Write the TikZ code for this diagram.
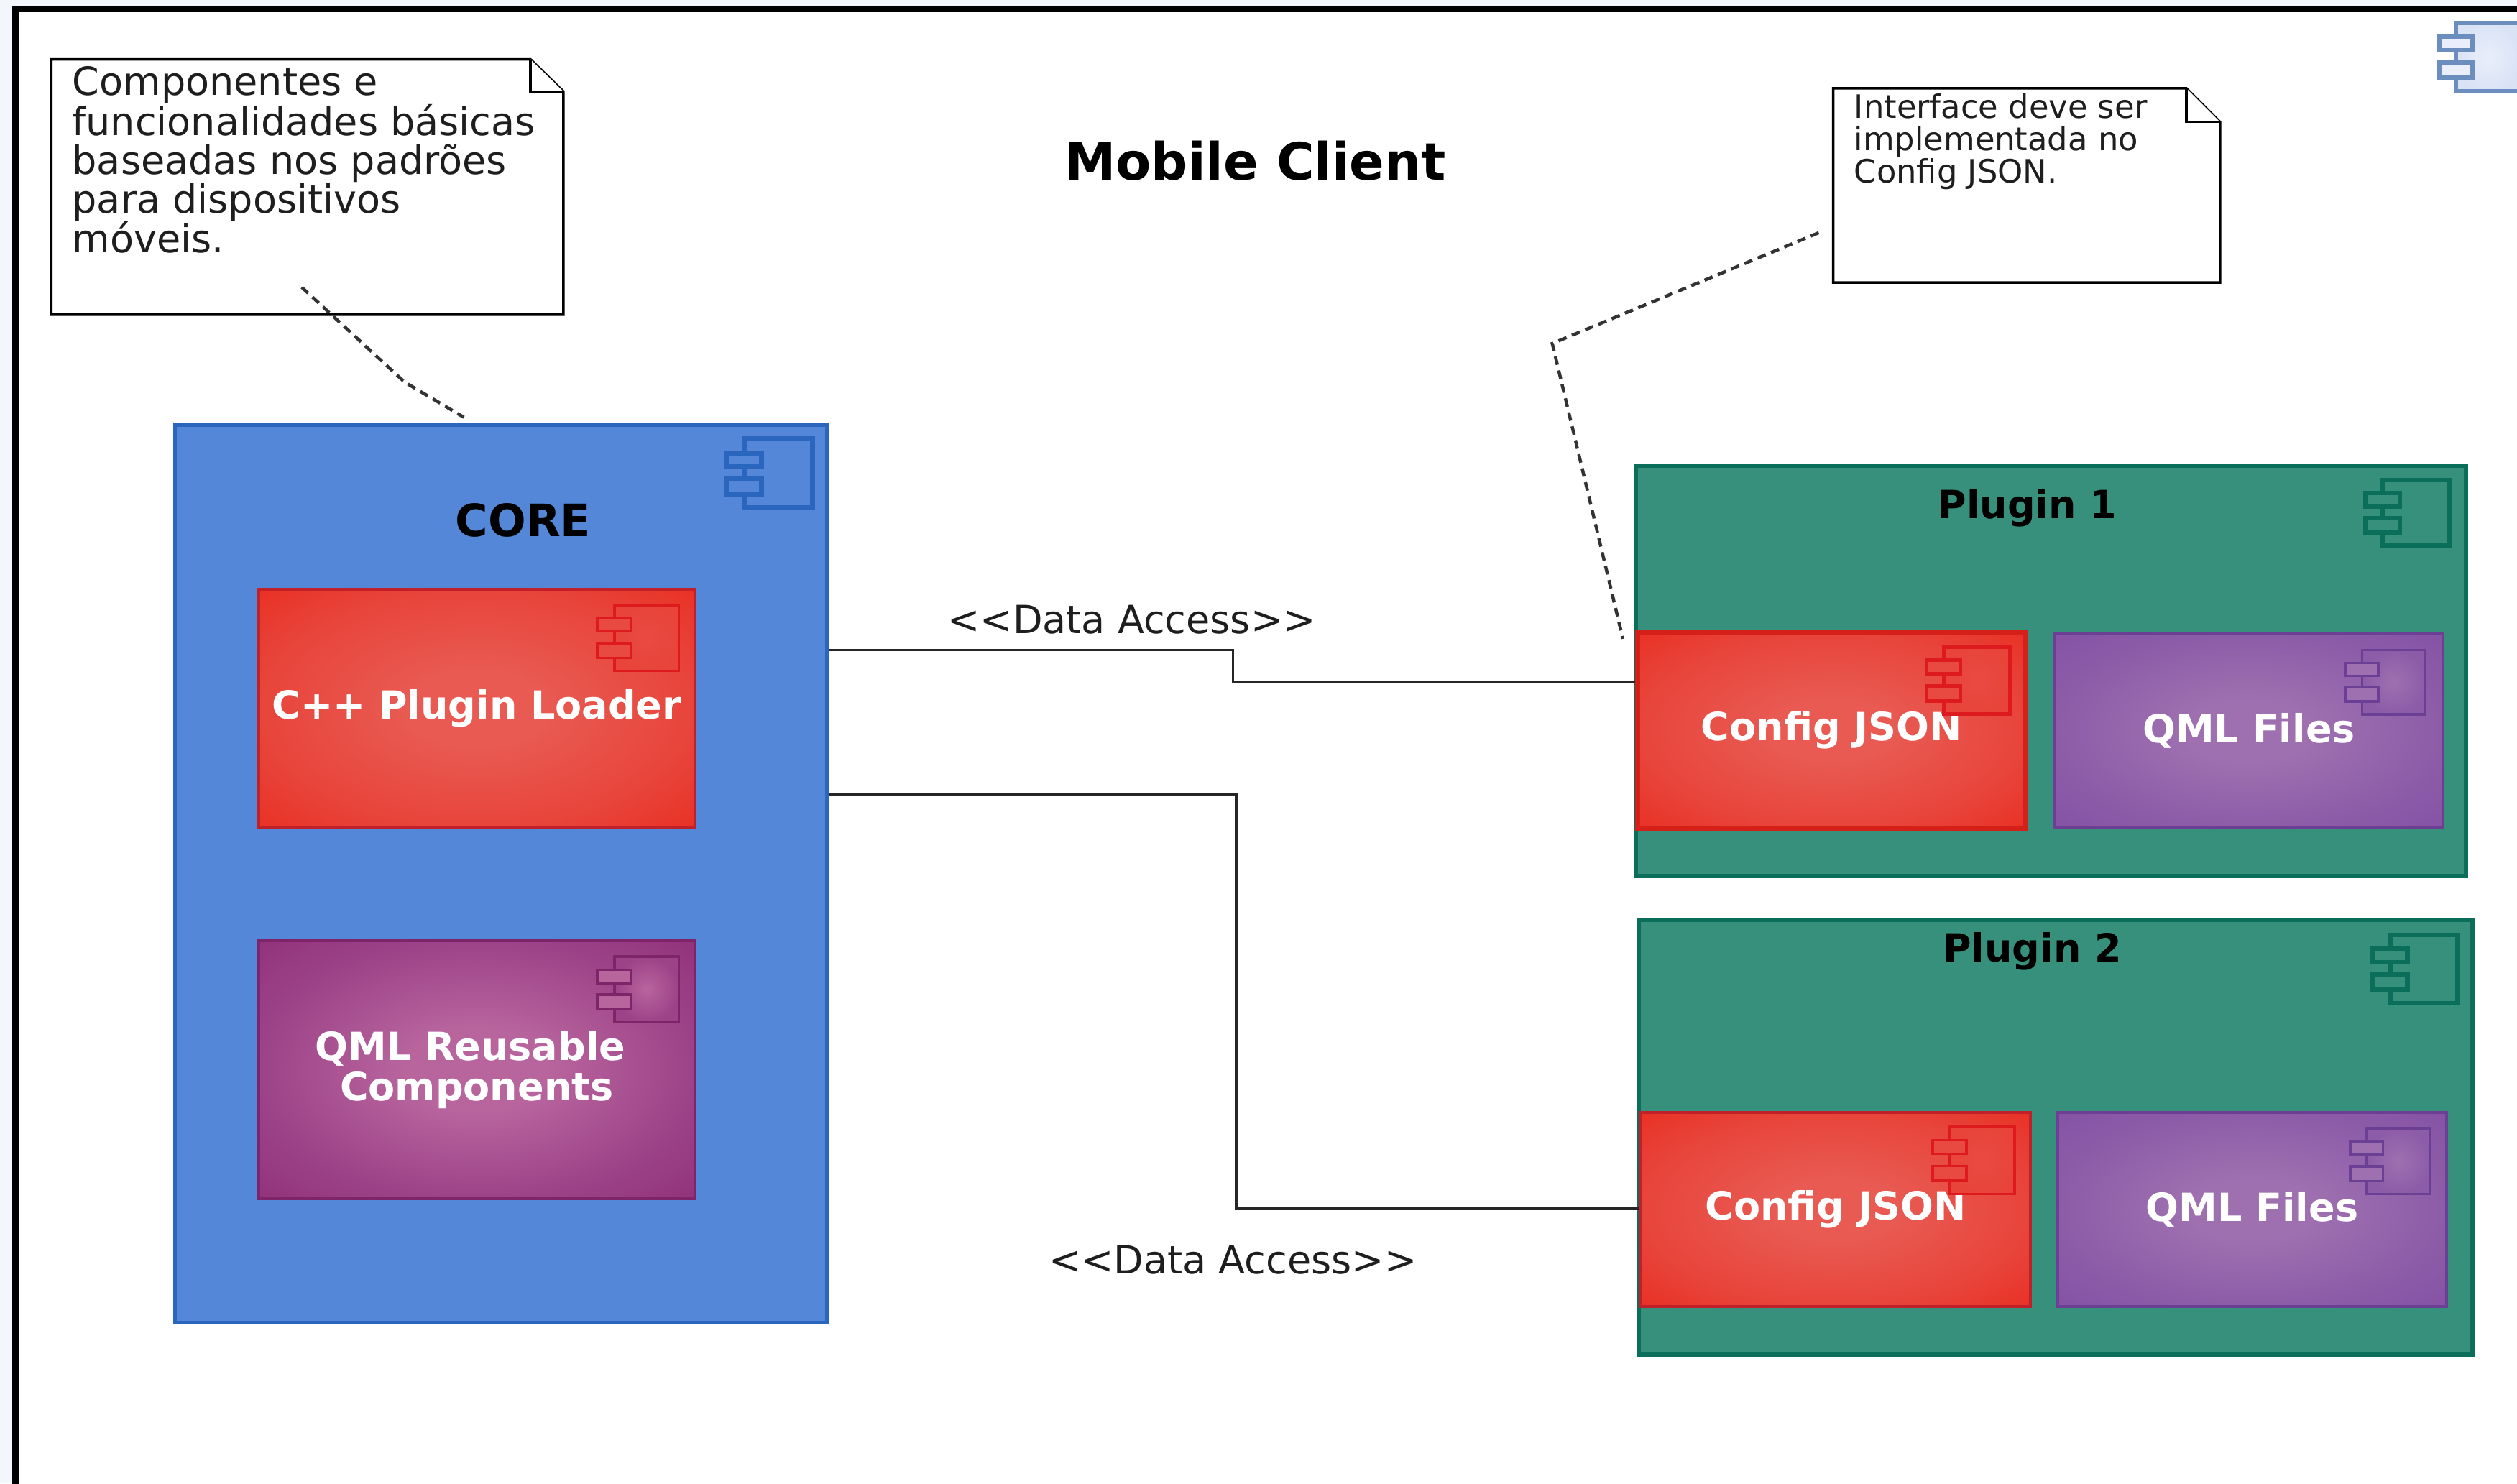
\documentclass[tikz,border=0pt]{standalone}
\usepackage{fontspec}
\setmainfont{DejaVu Sans}
\definecolor{pagebg}{HTML}{F3F6FA}
\definecolor{txt}{HTML}{1E1E1E}
\definecolor{corefill}{HTML}{5487D8}
\definecolor{coreline}{HTML}{2A66BE}
\definecolor{plugfill}{HTML}{36907C}
\definecolor{plugline}{HTML}{0A6E5A}
\definecolor{redin}{HTML}{E85A52}
\definecolor{redmid}{HTML}{E8443A}
\definecolor{redout}{HTML}{E92C20}
\definecolor{redline}{HTML}{C0202A}
\definecolor{redthickline}{HTML}{D42018}
\definecolor{redicon}{HTML}{DD1A1E}
\definecolor{redicontab}{HTML}{E84A42}
\definecolor{purin}{HTML}{9E70B0}
\definecolor{purmid}{HTML}{8C5CA8}
\definecolor{purout}{HTML}{8450A4}
\definecolor{purline}{HTML}{6A3F94}
\definecolor{magin}{HTML}{B8659E}
\definecolor{magmid}{HTML}{9C4288}
\definecolor{magout}{HTML}{8F2F78}
\definecolor{magline}{HTML}{7E2468}
\definecolor{topline}{HTML}{6C8EBF}
\definecolor{topfill}{HTML}{DAE3F6}
\pgfdeclareradialshading{redglow}{\pgfpointorigin}{color(0bp)=(redin); color(8bp)=(redin); color(25bp)=(redmid); color(38bp)=(redout); color(50bp)=(redout)}
\pgfdeclareradialshading{purglow}{\pgfpointorigin}{color(0bp)=(purin); color(8bp)=(purin); color(25bp)=(purmid); color(38bp)=(purout); color(50bp)=(purout)}
\pgfdeclareradialshading{magglow}{\pgfpointorigin}{color(0bp)=(magin); color(8bp)=(magin); color(25bp)=(magmid); color(38bp)=(magout); color(50bp)=(magout)}
% x1 y1 x2 y2 line outer inner/tab width
\newcommand{\compicon}[8]{%
  \draw[#5,line width=#8,inner color=#7,outer color=#6] ({#1+0.21*(#3-#1)},#2) rectangle (#3,#4);
  \draw[#5,line width=#8,fill=#7] (#1,{#2+0.20*(#4-#2)}) rectangle ({#1+0.41*(#3-#1)},{#2+0.40*(#4-#2)});
  \draw[#5,line width=#8,fill=#7] (#1,{#2+0.58*(#4-#2)}) rectangle ({#1+0.41*(#3-#1)},{#2+0.80*(#4-#2)});
}
\newcommand{\boxnode}[7]{%
  \node[#6,minimum width={(#4-#2)*2.2334pt},minimum height={(#5-#3)*2.2334pt}] (#1) at ({(#2+#4)/2},{(#3+#5)/2}) {#7};
}
\tikzset{
  x=2.2334pt,y=-2.2334pt,
  corebox/.style={draw=coreline,fill=corefill,line width=5pt,inner sep=0pt},
  plugbox/.style={draw=plugline,fill=plugfill,line width=6pt,inner sep=0pt},
  compbox/.style={inner sep=0pt,text=white,font=\fontsize{54}{56}\selectfont\bfseries,align=center},
  redbox/.style={compbox,draw=redline,line width=4pt,shading=redglow},
  redthick/.style={compbox,draw=redthickline,line width=7pt,shading=redglow},
  purbox/.style={compbox,draw=purline,line width=4pt,shading=purglow},
  magbox/.style={compbox,draw=magline,line width=4pt,shading=magglow},
  notebox/.style={draw=black,fill=white,line width=3.5pt},
  notetext/.style={text=txt,align=left,inner sep=0pt,anchor=north west},
  titletext/.style={text=black,inner sep=0pt,font=\bfseries},
  labeltext/.style={text=txt,inner sep=0pt,font=\fontsize{54}{58}\selectfont},
  conn/.style={draw=black!85,line width=3.5pt},
  notelink/.style={draw=black!80,line width=4.5pt,dash pattern=on 12pt off 8pt},
}
\begin{document}
\begin{tikzpicture}
\useasboundingbox (0,0) rectangle (1568,924.2);
\fill[pagebg] (0,0) rectangle (1568,924.2);
\draw[black,line width=9pt,fill=white] (9.5,5.8) rectangle (1600,960);

% notes
\draw[notebox] (32,37) -- (330.5,37) -- (351,57) -- (351,196) -- (32,196) -- cycle;
\draw[notebox] (330.5,37) -- (330.5,57) -- (351,57);
\node[notetext,font=\fontsize{54}{54}\selectfont] (n1) at (45,41.5) {Componentes e\\funcionalidades básicas\\baseadas nos padrões\\para dispositivos\\móveis.};
\draw[notebox] (1142,55) -- (1362,55) -- (1383,76) -- (1383,176) -- (1142,176) -- cycle;
\draw[notebox] (1362,55) -- (1362,76) -- (1383,76);
\node[notetext,font=\fontsize{44.8}{45}\selectfont] (n2) at (1155,58.5) {Interface deve ser\\implementada no\\Config JSON.};

% title
\node[titletext,font=\fontsize{71.7}{75}\selectfont\bfseries] (title) at (782,100) {Mobile Client};

% top-right icon
\compicon{1519.5}{14.5}{1570}{57}{topline}{topfill}{topfill!60!white}{6pt}

% CORE
\boxnode{core}{109}{265}{515}{824}{corebox}{}
\compicon{452.5}{273.5}{506}{316.5}{coreline}{corefill}{corefill}{7pt}
\node[titletext,font=\fontsize{62}{66}\selectfont\bfseries] (coretitle) at (326,324) {CORE};
\boxnode{loader}{161}{367}{433}{516}{redbox}{C++ Plugin Loader}
\compicon{372}{377}{423}{418}{redicon}{redmid}{redicontab}{3.5pt}
\boxnode{reuse}{161}{586}{433}{747}{magbox}{QML Reusable\rule{18pt}{0pt}\\Components}
\compicon{372}{596}{423}{637}{magline}{magmid}{magin}{3.5pt}

% Plugin 1
\boxnode{p1}{1019}{290}{1536}{546}{plugbox}{}
\compicon{1473.5}{299}{1526}{340}{plugline}{plugfill}{plugfill}{6.5pt}
\node[titletext,font=\fontsize{54}{58}\selectfont\bfseries] (p1title) at (1263,316.5) {Plugin 1};
\boxnode{cfg1}{1020}{394}{1262}{516}{redthick}{Config JSON}
\compicon{1200}{403}{1252}{445}{redicon}{redmid}{redicontab}{5pt}
\boxnode{qml1}{1280}{395}{1522}{516}{purbox}{QML Files}
\compicon{1461}{405}{1511}{445}{purline}{purmid}{purin}{3.5pt}

% Plugin 2
\boxnode{p2}{1021}{573}{1540}{844}{plugbox}{}
\compicon{1478}{582.5}{1531}{625}{plugline}{plugfill}{plugfill}{6.5pt}
\node[titletext,font=\fontsize{54}{58}\selectfont\bfseries] (p2title) at (1266,592.5) {Plugin 2};
\boxnode{cfg2}{1022}{693}{1265}{814}{redbox}{Config JSON}
\compicon{1204}{702}{1255}{744}{redicon}{redmid}{redicontab}{3.5pt}
\boxnode{qml2}{1282}{693}{1524}{814}{purbox}{QML Files}
\compicon{1464}{703}{1514}{744}{purline}{purmid}{purin}{3.5pt}

% connectors
\draw[conn] (core.east |- 0,405) -- (768,405) -- (768,425) -- (cfg1.west |- 0,425);
\draw[conn] (core.east |- 0,495) -- (770,495) -- (770,753) -- (cfg2.west |- 0,753);
\node[labeltext] (l1) at (705,386) {<{}<Data Access>{}>};
\node[labeltext] (l2) at (768,785) {<{}<Data Access>{}>};

% note links
\coordinate (a1) at (188,179);
\coordinate (a2) at (289,260);
\coordinate (b1) at (1133,145);
\coordinate (b2) at (1011,398);
\draw[notelink] (a1) -- (252,238) -- (a2);
\draw[notelink] (b1) -- (967,214) -- (b2);
\end{tikzpicture}
\end{document}
